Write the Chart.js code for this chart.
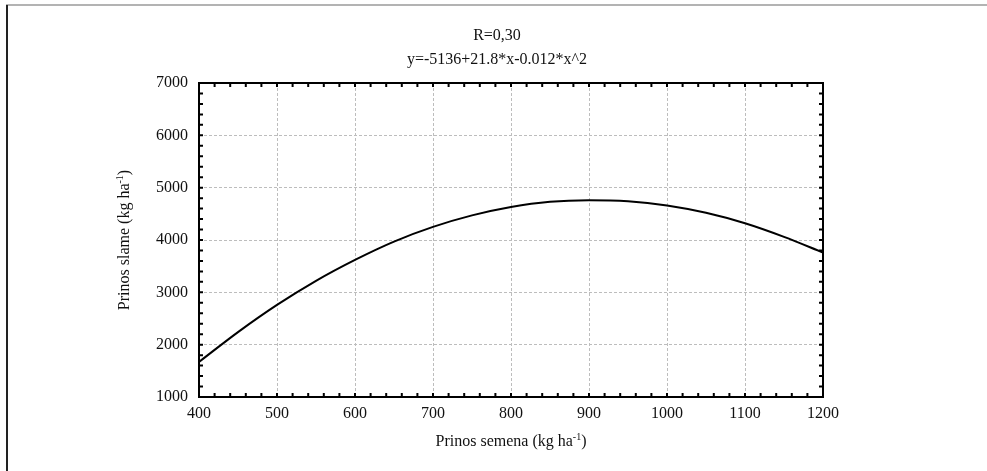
<!DOCTYPE html>
<html>
<head>
<meta charset="utf-8">
<script src="https://cdn.jsdelivr.net/npm/chart.js@4/dist/chart.umd.min.js"></script>
<style>
  html, body { margin: 0; padding: 0; background: #fff; }
  #wrap { width: 987px; height: 471px; position: relative; }
</style>
</head>
<body>
<div id="wrap"><canvas id="c" width="987" height="471"></canvas></div>
<script>
// ---- data ----
const seedYield = [400, 450, 500, 550, 600, 650, 700, 750, 800, 850, 900, 950, 1000, 1050, 1100, 1150, 1200];
const strawYield = [1670, 2240, 2760, 3220, 3620, 3970, 4250, 4470, 4630, 4730, 4760, 4740, 4660, 4520, 4320, 4060, 3760];
const xTickValues = [400, 500, 600, 700, 800, 900, 1000, 1100, 1200];
const yTickValues = [1000, 2000, 3000, 4000, 5000, 6000, 7000];
const xMinorStep = 20;
const yMinorStep = 200;
const titleLines = ['R=0,30', 'y=-5136+21.8*x-0.012*x^2'];
const xTitle = ['Prinos semena (kg ha', '-1', ')'];
const yTitle = ['Prinos slame (kg ha', '-1', ')'];

const FONT = '"Liberation Serif", "Times New Roman", serif';

function drawSup(ctx, parts, size) {
  ctx.font = size + 'px ' + FONT;
  const w1 = ctx.measureText(parts[0]).width;
  ctx.font = Math.round(size * 0.6) + 'px ' + FONT;
  const w2 = ctx.measureText(parts[1]).width;
  ctx.font = size + 'px ' + FONT;
  const w3 = ctx.measureText(parts[2]).width;
  const total = w1 + w2 + w3;
  let x = -total / 2;
  ctx.textAlign = 'left';
  ctx.textBaseline = 'middle';
  ctx.fillText(parts[0], x, 0); x += w1;
  ctx.font = Math.round(size * 0.6) + 'px ' + FONT;
  ctx.fillText(parts[1], x, -size * 0.3); x += w2;
  ctx.font = size + 'px ' + FONT;
  ctx.fillText(parts[2], x, 0);
}

const decor = {
  id: 'decor',
  beforeDraw(chart) {
    const ctx = chart.ctx;
    ctx.save();
    ctx.fillStyle = '#fff';
    ctx.fillRect(0, 0, chart.width, chart.height);
    ctx.strokeStyle = '#9a9a9a';
    ctx.lineWidth = 1.5;
    ctx.beginPath(); ctx.moveTo(6, 5); ctx.lineTo(chart.width, 5); ctx.stroke();
    ctx.strokeStyle = '#222';
    ctx.lineWidth = 2;
    ctx.beginPath(); ctx.moveTo(7, 5); ctx.lineTo(7, chart.height); ctx.stroke();
    ctx.restore();
  },
  afterDraw(chart) {
    const ctx = chart.ctx;
    const a = chart.chartArea;
    const xs = chart.scales.x, ys = chart.scales.y;
    ctx.save();
    ctx.strokeStyle = '#000';
    ctx.lineWidth = 2;
    ctx.strokeRect(a.left, a.top, a.right - a.left, a.bottom - a.top);
    const tl = 4;
    ctx.beginPath();
    for (let v = xs.min; v <= xs.max + 1e-9; v += xMinorStep) {
      const p = xs.getPixelForValue(v);
      ctx.moveTo(p, a.bottom); ctx.lineTo(p, a.bottom - tl);
      ctx.moveTo(p, a.top); ctx.lineTo(p, a.top + tl);
    }
    for (let v = ys.min; v <= ys.max + 1e-9; v += yMinorStep) {
      const p = ys.getPixelForValue(v);
      ctx.moveTo(a.left, p); ctx.lineTo(a.left + tl, p);
      ctx.moveTo(a.right, p); ctx.lineTo(a.right - tl, p);
    }
    ctx.stroke();
    ctx.fillStyle = '#111';
    ctx.font = '16px ' + FONT;
    ctx.textAlign = 'center';
    ctx.textBaseline = 'middle';
    ctx.fillText(titleLines[0], 497, 36);
    ctx.fillText(titleLines[1], 497, 60);
    ctx.save();
    ctx.translate((a.left + a.right) / 2, 442);
    drawSup(ctx, xTitle, 16);
    ctx.restore();
    ctx.save();
    ctx.translate(125, (a.top + a.bottom) / 2);
    ctx.rotate(-Math.PI / 2);
    drawSup(ctx, yTitle, 16);
    ctx.restore();
    ctx.restore();
  }
};

const gridColor = '#bdbdbd';

new Chart(document.getElementById('c'), {
  type: 'line',
  data: {
    labels: seedYield,
    datasets: [{
      data: seedYield.map((x, i) => ({ x: x, y: strawYield[i] })),
      borderColor: '#000',
      borderWidth: 2,
      pointRadius: 0,
      fill: false,
      cubicInterpolationMode: 'monotone'
    }]
  },
  options: {
    responsive: false,
    animation: false,
    devicePixelRatio: 1,
    layout: { padding: { left: 0, right: 164, top: 83, bottom: 0 } },
    plugins: { legend: { display: false }, tooltip: { enabled: false }, title: { display: false } },
    scales: {
      x: {
        type: 'linear',
        min: 400, max: 1200,
        afterBuildTicks: (s) => { s.ticks = xTickValues.map(v => ({ value: v })); },
        afterFit: (s) => { s.height = 74; },
        ticks: { color: '#111', font: { family: FONT, size: 16 }, padding: 7, maxRotation: 0, autoSkip: false, callback: (v) => String(v) },
        grid: { color: gridColor, lineWidth: 1, drawTicks: false },
        border: { display: false, dash: [3, 2] }
      },
      y: {
        type: 'linear',
        min: 1000, max: 7000,
        afterBuildTicks: (s) => { s.ticks = yTickValues.map(v => ({ value: v })); },
        afterFit: (s) => { s.width = 199; },
        ticks: { color: '#111', font: { family: FONT, size: 16 }, padding: 11, autoSkip: false, callback: (v) => String(v) },
        grid: { color: gridColor, lineWidth: 1, drawTicks: false },
        border: { display: false, dash: [3, 2] }
      }
    }
  },
  plugins: [decor]
});
</script>
</body>
</html>
